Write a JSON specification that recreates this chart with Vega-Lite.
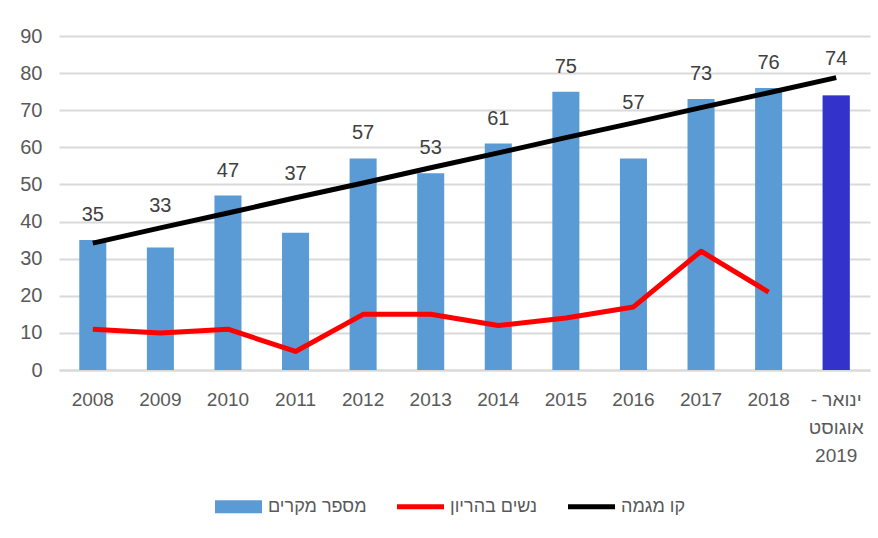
{
  "$schema": "https://vega.github.io/schema/vega-lite/v6.json",
  "width": 811,
  "height": 334,
  "autosize": {"type": "none"},
  "padding": {"left": 59, "top": 36, "right": 8, "bottom": 168},
  "background": "white",
  "config": {
    "view": {"stroke": null},
    "font": "Liberation Sans",
    "axisY": {
      "title": null,
      "ticks": false,
      "domain": false,
      "gridColor": "#D9D9D9",
      "gridWidth": 2,
      "labelFont": "Liberation Sans",
      "labelFontSize": 20,
      "labelColor": "#595959",
      "labelPadding": 17,
      "labelOverlap": false
    },
    "text": {"baseline": "middle", "font": "Liberation Sans", "fontSize": 20, "color": "#404040"}
  },
  "data": {
    "values": [
      {"year": "2008", "cases": 35, "pregnant": 11, "trend": 34.2},
      {"year": "2009", "cases": 33, "pregnant": 10, "trend": 38.3},
      {"year": "2010", "cases": 47, "pregnant": 11, "trend": 42.3},
      {"year": "2011", "cases": 37, "pregnant": 5, "trend": 46.4},
      {"year": "2012", "cases": 57, "pregnant": 15, "trend": 50.4},
      {"year": "2013", "cases": 53, "pregnant": 15, "trend": 54.5},
      {"year": "2014", "cases": 61, "pregnant": 12, "trend": 58.5},
      {"year": "2015", "cases": 75, "pregnant": 14, "trend": 62.6},
      {"year": "2016", "cases": 57, "pregnant": 17, "trend": 66.6},
      {"year": "2017", "cases": 73, "pregnant": 32, "trend": 70.7},
      {"year": "2018", "cases": 76, "pregnant": 21, "trend": 74.7},
      {"year": "ינואר - אוגוסט 2019", "cases": 74, "pregnant": null, "trend": 78.8}
    ]
  },
  "encoding": {
    "x": {
      "field": "year",
      "type": "nominal",
      "sort": null,
      "scale": {"paddingInner": 0.6, "paddingOuter": 0.3},
      "axis": {
        "title": null,
        "labelAngle": 0,
        "ticks": false,
        "domainColor": "#D9D9D9",
        "domainWidth": 2,
        "labelFont": "Liberation Sans",
        "labelFontSize": 19,
        "labelColor": "#595959",
        "labelPadding": 20,
        "labelLineHeight": 28,
        "labelExpr": "datum.value == 'ינואר - אוגוסט 2019' ? ['- ינואר', 'אוגוסט', '2019'] : datum.label"
      }
    }
  },
  "layer": [
    {
      "mark": {"type": "bar"},
      "encoding": {
        "y": {
          "field": "cases",
          "type": "quantitative",
          "scale": {"domain": [0, 90], "nice": false},
          "axis": {"values": [0, 10, 20, 30, 40, 50, 60, 70, 80, 90], "title": null}
        },
        "color": {
          "datum": "מספר מקרים",
          "type": "nominal",
          "scale": {
            "domain": ["מספר מקרים", "נשים בהריון", "קו מגמה"],
            "range": ["#5B9BD5", "#FF0000", "#000000"]
          },
          "legend": {
            "orient": "none",
            "legendX": 156,
            "legendY": 447,
            "direction": "horizontal",
            "title": null,
            "symbolSize": 2209,
            "labelFont": "Liberation Sans",
            "labelFontSize": 18,
            "labelColor": "#595959",
            "labelOffset": 6,
            "columnPadding": 30,
            "encode": {
              "symbols": {
                "update": {
                  "shape": {"signal": "datum.label === 'מספר מקרים' ? 'M-1,-0.28H1V0.28H-1Z' : 'M-1,-0.11H1V0.11H-1Z'"},
                  "fill": {"scale": "color", "field": "value"},
                  "stroke": {"value": "transparent"},
                  "strokeWidth": {"value": 0}
                }
              }
            }
          }
        }
      }
    },
    {
      "transform": [{"filter": "datum.year == 'ינואר - אוגוסט 2019'"}],
      "mark": {"type": "bar", "color": "#3333CC"},
      "encoding": {
        "y": {"field": "cases", "type": "quantitative", "axis": {"values": [0, 10, 20, 30, 40, 50, 60, 70, 80, 90], "title": null}}
      }
    },
    {
      "transform": [{"filter": "isValid(datum.pregnant)"}],
      "mark": {"type": "line", "strokeWidth": 5, "strokeJoin": "round"},
      "encoding": {
        "y": {"field": "pregnant", "type": "quantitative", "axis": {"values": [0, 10, 20, 30, 40, 50, 60, 70, 80, 90], "title": null}},
        "color": {"datum": "נשים בהריון", "type": "nominal"}
      }
    },
    {
      "mark": {"type": "line", "strokeWidth": 5},
      "encoding": {
        "y": {"field": "trend", "type": "quantitative", "axis": {"values": [0, 10, 20, 30, 40, 50, 60, 70, 80, 90], "title": null}},
        "color": {"datum": "קו מגמה", "type": "nominal"}
      }
    },
    {
      "transform": [{"filter": "indexof(['2009', '2011', '2016', 'ינואר - אוגוסט 2019'], datum.year) < 0"}],
      "mark": {"type": "text", "dy": -25},
      "encoding": {
        "y": {"field": "cases", "type": "quantitative", "axis": {"values": [0, 10, 20, 30, 40, 50, 60, 70, 80, 90], "title": null}},
        "text": {"field": "cases", "type": "quantitative"}
      }
    },
    {
      "transform": [{"filter": "datum.year == '2009'"}],
      "mark": {"type": "text", "dy": -42},
      "encoding": {
        "y": {"field": "cases", "type": "quantitative", "axis": {"values": [0, 10, 20, 30, 40, 50, 60, 70, 80, 90], "title": null}},
        "text": {"field": "cases", "type": "quantitative"}
      }
    },
    {
      "transform": [{"filter": "datum.year == '2011'"}],
      "mark": {"type": "text", "dy": -59},
      "encoding": {
        "y": {"field": "cases", "type": "quantitative", "axis": {"values": [0, 10, 20, 30, 40, 50, 60, 70, 80, 90], "title": null}},
        "text": {"field": "cases", "type": "quantitative"}
      }
    },
    {
      "transform": [{"filter": "datum.year == '2016'"}],
      "mark": {"type": "text", "dy": -55},
      "encoding": {
        "y": {"field": "cases", "type": "quantitative", "axis": {"values": [0, 10, 20, 30, 40, 50, 60, 70, 80, 90], "title": null}},
        "text": {"field": "cases", "type": "quantitative"}
      }
    },
    {
      "transform": [{"filter": "datum.year == 'ינואר - אוגוסט 2019'"}],
      "mark": {"type": "text", "dy": -36},
      "encoding": {
        "y": {"field": "cases", "type": "quantitative", "axis": {"values": [0, 10, 20, 30, 40, 50, 60, 70, 80, 90], "title": null}},
        "text": {"field": "cases", "type": "quantitative"}
      }
    }
  ]
}
